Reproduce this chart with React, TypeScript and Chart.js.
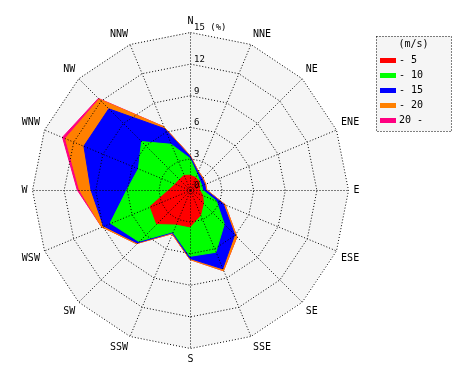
import React, { useEffect, useRef } from 'react';
import { Chart, registerables } from 'chart.js';

Chart.register(...registerables);

const directions = ['N', 'NNE', 'NE', 'ENE', 'E', 'ESE', 'SE', 'SSE', 'S', 'SSW', 'SW', 'WSW', 'W', 'WNW', 'NW', 'NNW'];
const speedClasses = ['- 5', '- 10', '- 15', '- 20', '20 -'];
const classColors = ['#ff0000', '#00ff00', '#0000ff', '#ff8000', '#ff0080'];
const legendTitle = '(m/s)';
const tickUnit = '(%)';
const scaleMax = 15;
const scaleStep = 3;

// frequency (%) per direction for each wind-speed class
const freqTo5 = [1.4, 1.3, 1.2, 1.0, 0.9, 1.3, 1.8, 2.6, 3.5, 3.5, 4.5, 4.1, 2.0, 1.5, 1.4, 1.5];
const freqTo10 = [1.6, 0.4, 0.1, 0.2, 0.3, 1.4, 2.8, 3.8, 2.8, 0.8, 2.4, 4.1, 4.0, 3.8, 5.1, 3.2];
const freqTo15 = [0.2, 0.2, 0.3, 0.3, 0.3, 0.7, 1.4, 1.7, 0.2, 0.1, 0.2, 0.7, 3.4, 5.6, 4.4, 1.6];
const freqTo20 = [0.1, 0.1, 0.1, 0.1, 0.1, 0.2, 0.3, 0.2, 0.1, 0.1, 0.1, 0.2, 1.1, 1.9, 1.3, 0.2];
const freqOver20 = [0, 0, 0, 0, 0, 0, 0, 0, 0, 0, 0, 0, 0.2, 0.3, 0.1, 0];

const MONO = '"DejaVu Sans Mono", monospace';

export default function App() {
  const ref = useRef<HTMLCanvasElement>(null);

  useEffect(() => {
    if (!ref.current) return;
    const classes = [freqTo5, freqTo10, freqTo15, freqTo20, freqOver20];
    let running = directions.map(() => 0);
    const cumulative = classes.map((arr) => {
      running = running.map((v, i) => +(v + arr[i]).toFixed(3));
      return running;
    });

    const datasets = cumulative.map((data, k) => ({
      label: speedClasses[k],
      data,
      backgroundColor: classColors[k],
      borderColor: classColors[k],
      borderWidth: 1,
      pointRadius: 0,
      pointHoverRadius: 0,
      fill: true,
      tension: 0,
    }));

    const rosePlugin = {
      id: 'roseDecor',
      beforeDatasetsDraw(chart: any) {
        const s = chart.scales.r;
        const ctx = chart.ctx;
        ctx.save();
        ctx.beginPath();
        for (let i = 0; i < directions.length; i++) {
          const p = s.getPointPosition(i, s.drawingArea);
          if (i === 0) ctx.moveTo(p.x, p.y);
          else ctx.lineTo(p.x, p.y);
        }
        ctx.closePath();
        ctx.fillStyle = '#f5f5f5';
        ctx.fill();
        ctx.restore();
      },
      afterDatasetsDraw(chart: any) {
        chart.ctx.save();
        chart.ctx.translate(0.5, 0.5);
      },
      afterDraw(chart: any) {
        const ctx = chart.ctx;
        ctx.restore();
        const s = chart.scales.r;
        // tick labels
        ctx.save();
        ctx.font = `9px ${MONO}`;
        ctx.fillStyle = '#000';
        ctx.textAlign = 'left';
        ctx.textBaseline = 'middle';
        s.ticks.forEach((t: any, i: number) => {
          const d = s.getDistanceFromCenterForValue(t.value);
          const label = i === s.ticks.length - 1 ? `${t.value} ${tickUnit}` : String(t.value);
          ctx.fillText(label, s.xCenter + 4, s.yCenter - d - 4);
        });
        ctx.restore();

        // legend box
        const bx = 368;
        const by = 28;
        const bw = 75;
        const bh = 95;
        ctx.save();
        ctx.fillStyle = '#f5f5f5';
        ctx.fillRect(bx, by, bw, bh);
        ctx.strokeStyle = '#000';
        ctx.lineWidth = 1;
        ctx.setLineDash([1, 2]);
        ctx.strokeRect(bx + 0.5, by + 0.5, bw, bh);
        ctx.setLineDash([]);
        ctx.font = `10px ${MONO}`;
        ctx.fillStyle = '#000';
        ctx.textAlign = 'center';
        ctx.textBaseline = 'middle';
        ctx.fillText(legendTitle, bx + bw / 2, by + 8);
        chart.data.datasets.forEach((ds: any, i: number) => {
          const y = by + 24 + i * 15;
          ctx.fillStyle = ds.backgroundColor;
          ctx.fillRect(bx + 4, y - 2, 16, 5);
          ctx.fillStyle = '#000';
          ctx.textAlign = 'left';
          ctx.fillText(ds.label, bx + 23, y);
        });
        ctx.restore();
      },
    };

    const chart = new Chart(ref.current, {
      type: 'radar',
      data: { labels: directions, datasets },
      options: {
        responsive: false,
        animation: false,
        events: [],
        layout: { padding: { top: 7, bottom: 7, left: 7, right: 97 } },
        plugins: { legend: { display: false }, tooltip: { enabled: false } },
        elements: { line: { tension: 0 } },
        scales: {
          r: {
            min: 0,
            max: scaleMax,
            ticks: { stepSize: scaleStep, display: false },
            grid: { color: '#000', lineWidth: 1, circular: false, z: 1 },
            border: { dash: [1, 2] },
            angleLines: { color: '#000', lineWidth: 1, borderDash: [1, 2] },
            pointLabels: { font: { family: MONO, size: 10 }, color: '#000', padding: 5 },
          },
        },
      },
      plugins: [rosePlugin],
    } as any);

    return () => chart.destroy();
  }, []);

  return (
    <div style={{ width: 454, height: 364 }}>
      <canvas ref={ref} width={454} height={364} style={{ display: 'block' }} />
    </div>
  );
}
